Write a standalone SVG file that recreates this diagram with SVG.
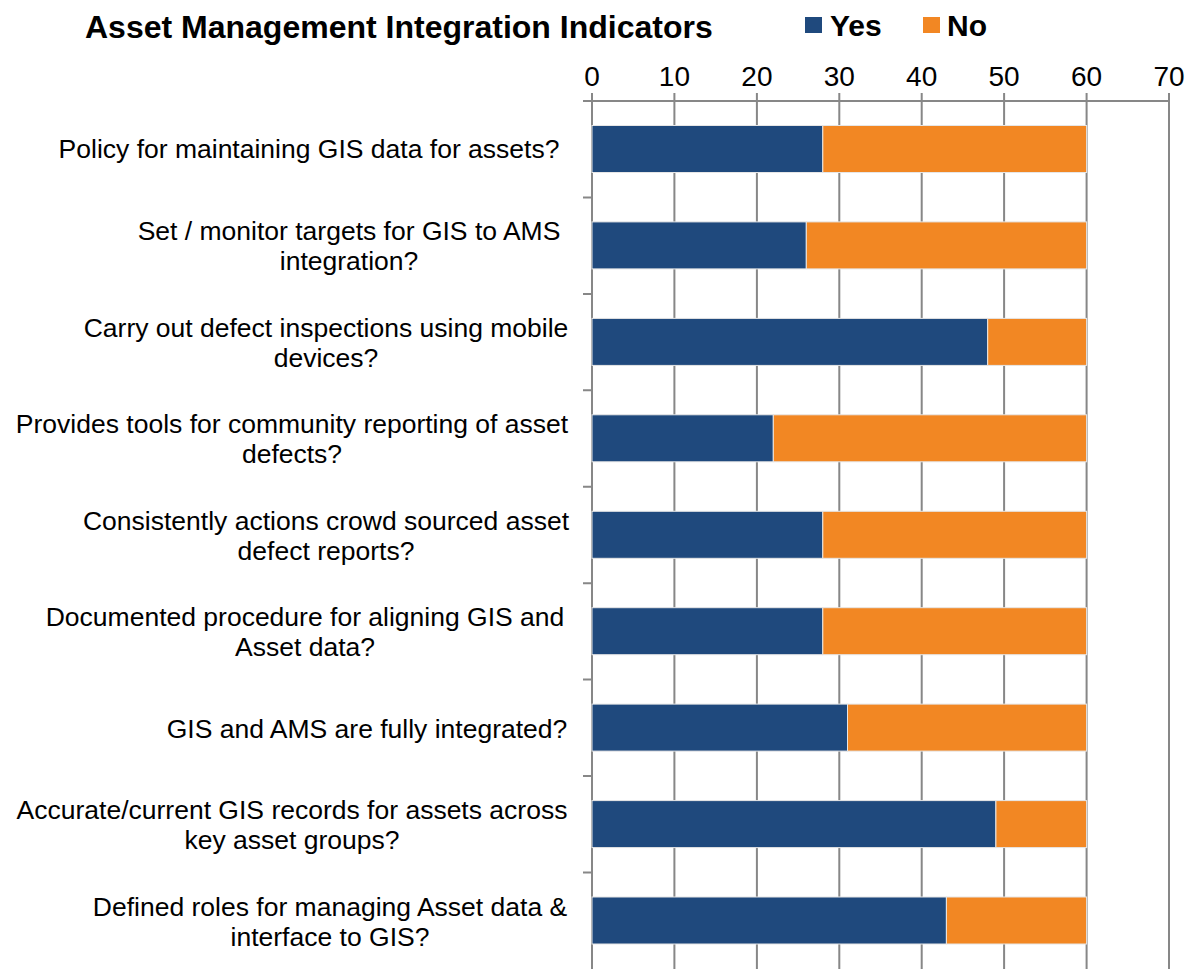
<svg xmlns="http://www.w3.org/2000/svg" width="1195" height="969" viewBox="0 0 1195 969">
<style>
.t{font-family:"Liberation Sans",Arial,sans-serif;fill:#000}
.title{font-size:32px;font-weight:bold}
.leg{font-size:30px;font-weight:bold}
.tick{font-size:28px;text-anchor:middle}
.lab{font-size:26.5px;text-anchor:middle}
.grid{stroke:#878787;stroke-width:2;fill:none}
.yes{fill:#1F497D}
.no{fill:#F28723}
.bar{stroke:#e6e6e6;stroke-width:1}
</style>
<rect width="1195" height="969" fill="#fff"/>
<g id="title"><text class="t title" x="85" y="38">Asset Management Integration Indicators</text></g>
<g id="legend">
<rect class="yes" x="805" y="17" width="17" height="16"/>
<text class="t leg" x="830" y="36">Yes</text>
<rect class="no" x="923" y="17" width="17" height="16"/>
<text class="t leg" x="947" y="36">No</text>
</g>
<g id="axis">
<text class="t tick" x="592" y="86">0</text>
<text class="t tick" x="674.4" y="86">10</text>
<text class="t tick" x="756.9" y="86">20</text>
<text class="t tick" x="839.3" y="86">30</text>
<text class="t tick" x="921.7" y="86">40</text>
<text class="t tick" x="1004.1" y="86">50</text>
<text class="t tick" x="1086.6" y="86">60</text>
<text class="t tick" x="1169" y="86">70</text>
<path class="grid" d="M583 101H1169 M592 93V969 M674.4 93V969 M756.9 93V969 M839.3 93V969 M921.7 93V969 M1004.1 93V969 M1086.6 93V969 M1169 93V969"/>
<path class="grid" d="M583 197.4H592 M583 293.9H592 M583 390.3H592 M583 486.8H592 M583 583.2H592 M583 679.6H592 M583 776.1H592 M583 872.5H592"/>
</g>
<g id="bars">
<rect class="yes bar" x="592" y="125.5" width="230.8" height="47"/><rect class="no bar" x="822.8" y="125.5" width="263.8" height="47"/>
<rect class="yes bar" x="592" y="221.9" width="214.3" height="47"/><rect class="no bar" x="806.3" y="221.9" width="280.3" height="47"/>
<rect class="yes bar" x="592" y="318.4" width="395.7" height="47"/><rect class="no bar" x="987.7" y="318.4" width="98.9" height="47"/>
<rect class="yes bar" x="592" y="414.8" width="181.3" height="47"/><rect class="no bar" x="773.3" y="414.8" width="313.3" height="47"/>
<rect class="yes bar" x="592" y="511.3" width="230.8" height="47"/><rect class="no bar" x="822.8" y="511.3" width="263.8" height="47"/>
<rect class="yes bar" x="592" y="607.7" width="230.8" height="47"/><rect class="no bar" x="822.8" y="607.7" width="263.8" height="47"/>
<rect class="yes bar" x="592" y="704.1" width="255.5" height="47"/><rect class="no bar" x="847.5" y="704.1" width="239.1" height="47"/>
<rect class="yes bar" x="592" y="800.6" width="403.9" height="47"/><rect class="no bar" x="995.9" y="800.6" width="90.7" height="47"/>
<rect class="yes bar" x="592" y="897" width="354.4" height="47"/><rect class="no bar" x="946.4" y="897" width="140.2" height="47"/>
</g>
<g id="labels">
<text class="t lab" x="309" y="158">Policy for maintaining GIS data for assets?</text>
<text class="t lab" x="349" y="240">Set / monitor targets for GIS to AMS</text>
<text class="t lab" x="349" y="270">integration?</text>
<text class="t lab" x="326" y="337">Carry out defect inspections using mobile</text>
<text class="t lab" x="326" y="367">devices?</text>
<text class="t lab" x="292" y="433">Provides tools for community reporting of asset</text>
<text class="t lab" x="292" y="463">defects?</text>
<text class="t lab" x="326" y="530">Consistently actions crowd sourced asset</text>
<text class="t lab" x="326" y="560">defect reports?</text>
<text class="t lab" x="305" y="626">Documented procedure for aligning GIS and</text>
<text class="t lab" x="305" y="656">Asset data?</text>
<text class="t lab" x="367" y="738">GIS and AMS are fully integrated?</text>
<text class="t lab" x="292" y="819">Accurate/current GIS records for assets across</text>
<text class="t lab" x="292" y="849">key asset groups?</text>
<text class="t lab" x="330" y="916">Defined roles for managing Asset data &amp;</text>
<text class="t lab" x="330" y="946">interface to GIS?</text>
</g>
</svg>
